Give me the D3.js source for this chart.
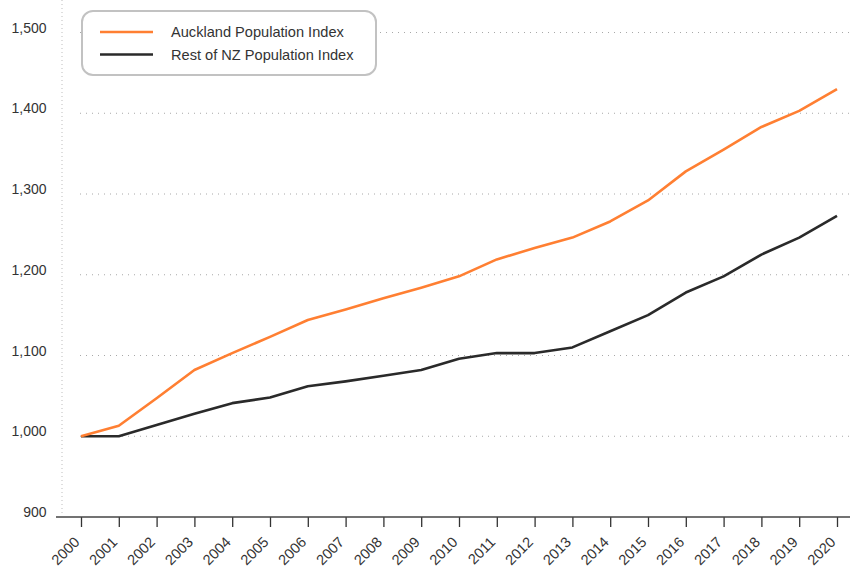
<!DOCTYPE html>
<html>
<head>
<meta charset="utf-8">
<script src="https://cdn.jsdelivr.net/npm/d3@7"></script>
<style>
  html, body { margin: 0; padding: 0; background: #fff; }
  svg { display: block; font-family: "Liberation Sans", Arial, Helvetica, sans-serif; }
</style>
</head>
<body>
<svg id="chart" width="850" height="569"></svg>
<script>
const years = ["2000","2001","2002","2003","2004","2005","2006","2007","2008","2009","2010",
               "2011","2012","2013","2014","2015","2016","2017","2018","2019","2020"];
const auckland = [1000,1013,1047,1082,1103,1123,1144,1157,1171,1184,1198,
                  1219,1233,1246,1266,1292,1328,1355,1383,1403,1430];
const restNZ = [1000,1000,1014,1028,1041,1048,1062,1068,1075,1082,1096,
                1103,1103,1110,1130,1150,1178,1198,1225,1246,1273];
const yTicks = [900,1000,1100,1200,1300,1400,1500];
const seriesNames = ["Auckland Population Index","Rest of NZ Population Index"];
const seriesColors = ["#ff7f32","#2a2a2a"];

const svg = d3.select("#chart");
const W = 850, H = 569;
const FS = 14.6;

const x = d3.scalePoint().domain(years).range([81, 837]);
const y = d3.scaleLinear().domain([900, 1500]).range([517, 32.5]);

// y axis dotted line
svg.append("line")
  .attr("x1", 62).attr("x2", 62).attr("y1", 0).attr("y2", 515)
  .attr("stroke", "#bdbdbd").attr("stroke-width", 1)
  .attr("stroke-dasharray", "1,3");

// gridlines
svg.append("g").selectAll("line")
  .data(yTicks.filter(d => d > 900))
  .join("line")
  .attr("x1", 80).attr("x2", W)
  .attr("y1", d => y(d)).attr("y2", d => y(d))
  .attr("stroke", "#a8a8a8").attr("stroke-width", 1)
  .attr("stroke-dasharray", "1,5");

// y labels
const fmt = d3.format(",");
svg.append("g").selectAll("text")
  .data(yTicks)
  .join("text")
  .attr("x", 46.5).attr("y", d => y(d))
  .attr("text-anchor", "end")
  .attr("font-size", 14)
  .attr("fill", "#333")
  .text(d => fmt(d));

// x axis
const xAxis = d3.axisBottom(x).tickSize(10).tickSizeOuter(0).tickPadding(4);
const gx = svg.append("g").attr("transform", `translate(0,517)`).call(xAxis);
gx.select(".domain").remove();
gx.selectAll(".tick line").attr("stroke", "#333").attr("stroke-width", 1.3);
gx.selectAll(".tick text")
  .attr("font-size", FS)
  .attr("font-family", "Liberation Sans, Arial, sans-serif")
  .attr("fill", "#333")
  .attr("text-anchor", "end")
  .attr("dy", null)
  .attr("x", 0).attr("y", 0)
  .attr("transform", "translate(-1,26) rotate(-45)");
svg.append("line")
  .attr("x1", 56).attr("x2", W).attr("y1", 517).attr("y2", 517)
  .attr("stroke", "#444").attr("stroke-width", 1.5);

// lines
const line = d3.line().x((d, i) => x(years[i])).y(d => y(d));
[restNZ, auckland].forEach((s, k) => {
  svg.append("path")
    .datum(s)
    .attr("fill", "none")
    .attr("stroke", k === 0 ? seriesColors[1] : seriesColors[0])
    .attr("stroke-width", 2.6)
    .attr("stroke-linejoin", "round")
    .attr("d", line);
});

// legend
const lg = svg.append("g");
lg.append("rect")
  .attr("x", 82).attr("y", 11).attr("width", 294).attr("height", 64)
  .attr("rx", 11).attr("ry", 11)
  .attr("fill", "#fff").attr("stroke", "#c2c2c2").attr("stroke-width", 2);
seriesNames.forEach((n, i) => {
  const yy = 32 + i * 22.5;
  lg.append("line")
    .attr("x1", 100).attr("x2", 153).attr("y1", yy).attr("y2", yy)
    .attr("stroke", seriesColors[i]).attr("stroke-width", 2.6);
  lg.append("text")
    .attr("x", 171).attr("y", yy + 5)
    .attr("font-size", FS).attr("fill", "#333")
    .text(n);
});
</script>
</body>
</html>
